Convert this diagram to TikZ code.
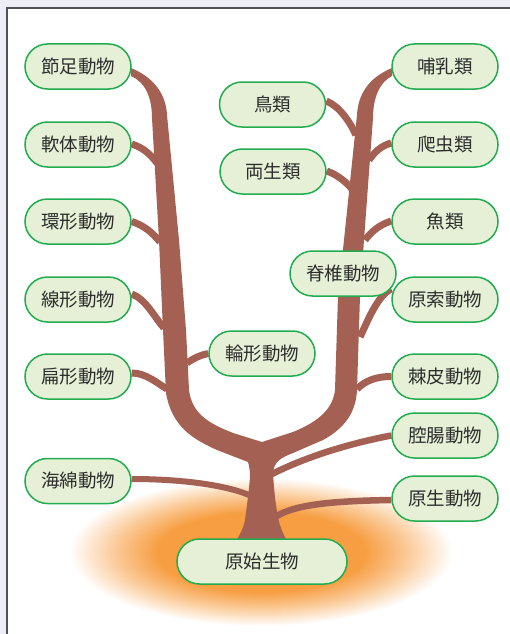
\documentclass[tikz,border=0pt]{standalone}
\usepackage{fontspec}
\newfontfamily\jpfont{Noto Sans CJK JP}
\definecolor{treec}{RGB}{164,96,82}
\definecolor{nodefill}{RGB}{230,240,214}
\definecolor{nodeborder}{RGB}{34,172,80}
\definecolor{textc}{RGB}{45,45,45}
\definecolor{glowc}{RGB}{247,158,66}
\definecolor{outerbg}{RGB}{238,239,246}
\definecolor{framec}{RGB}{80,80,88}
\pgfdeclareradialshading{glow}{\pgfpoint{0bp}{0bp}}{color(0bp)=(glowc); color(13.5bp)=(glowc); color(19bp)=(glowc!55!white); color(25bp)=(white); color(50bp)=(white)}
\pgfdeclarelayer{bg}
\pgfdeclarelayer{tree}
\pgfsetlayers{bg,tree,main}
\tikzset{
  taxon/.style={draw=nodeborder, line width=1.5pt, fill=nodefill, rounded corners=22.5pt,
    minimum width=106pt, minimum height=45pt, inner sep=0pt, text=textc,
    font=\jpfont\fontsize{18.5}{21}\selectfont},
  twig/.style={draw=treec, line width=7pt},
}
\begin{document}
\begin{tikzpicture}[x=1pt,y=-1pt]
\useasboundingbox (0,0) rectangle (510,634);
\begin{pgfonlayer}{bg}
\fill[outerbg] (0,0) rectangle (510,634);
\fill[white] (7,8) rectangle (510,634);
\draw[framec, line width=1.5pt] (7,634) -- (7,8) -- (510,8);
\shade[shading=glow] (261,552) ellipse [x radius=192, y radius=74];
\end{pgfonlayer}

% nodes
\node[taxon] (jiezu) at (78,66.5) {節足動物};
\node[taxon] (ruanti) at (78,144.5) {軟体動物};
\node[taxon] (huanxing) at (78,221.5) {環形動物};
\node[taxon] (xianxing) at (78,299.5) {線形動物};
\node[taxon] (bianxing) at (78,376.5) {扁形動物};
\node[taxon] (haimian) at (78,481) {海綿動物};
\node[taxon] (buru) at (445,66.5) {哺乳類};
\node[taxon] (pachong) at (445,144.5) {爬虫類};
\node[taxon] (yu) at (445,221.5) {魚類};
\node[taxon] (yuansuo) at (445,299.5) {原索動物};
\node[taxon] (jipi) at (445,376.5) {棘皮動物};
\node[taxon] (qiangchang) at (445,435.5) {腔腸動物};
\node[taxon] (yuansheng) at (445,498.5) {原生動物};
\node[taxon] (niao) at (272.5,104.5) {鳥類};
\node[taxon] (liangsheng) at (273,171.5) {両生類};
\node[taxon] (jizhui) at (343,273.5) {脊椎動物};
\node[taxon] (lunxing) at (262,353.5) {輪形動物};
\node[taxon, minimum width=170pt] (yuanshi) at (262,561.5) {原始生物};

% trunk attachment points
\coordinate (tRuanti) at (157,163);
\coordinate (tHuanxing) at (160,242);
\coordinate (tXianxing) at (164,328);
\coordinate (tBianxing) at (167,389);
\coordinate (tLunxing) at (187,363);
\coordinate (tHaimian) at (249,495);
\coordinate (tNiao) at (356,135);
\coordinate (tLiang) at (352,189);
\coordinate (tPachong) at (369,160);
\coordinate (tYu) at (365,240);
\coordinate (tYuansuo) at (360,337);
\coordinate (tJipi) at (357,389);
\coordinate (tQiang) at (272,474);
\coordinate (tYuansheng) at (277,516);

\begin{pgfonlayer}{tree}
% main tree
\fill[treec] (131,68) .. controls (155,78) and (166,95) .. (167,115)
  -- (179,240) -- (186,330) -- (189,390)
  .. controls (192,412) and (205,422) .. (233,433) -- (262,442)
  -- (293,432) .. controls (320,421) and (333,408) .. (335,390)
  -- (338,296) -- (344,240) -- (357,115)
  .. controls (358,95) and (368,78) .. (392,68) -- (392,76)
  .. controls (380,82) and (373,97) .. (373,118)
  -- (364,240) -- (360,296) -- (357,390)
  .. controls (356,412) and (345,428) .. (323,440) -- (293,453)
  .. controls (280,458) and (274,462) .. (273,473)
  .. controls (274,490) and (276,508) .. (278,517)
  .. controls (280,528) and (284,535) .. (287,541)
  -- (236,541)
  .. controls (241,533) and (244,526) .. (245,520)
  .. controls (247,505) and (249,490) .. (250,477)
  .. controls (250,470) and (249,465) .. (248,462)
  -- (217,450) .. controls (195,440) and (172,428) .. (166,393)
  -- (163,330) -- (159,240) -- (152,118)
  .. controls (152,97) and (145,82) .. (131,76) -- cycle;
% twigs
\draw[twig] ([yshift=0.5pt]ruanti.east) .. controls +(12,4) and (150,154) .. (tRuanti);
\draw[twig] (huanxing.east) .. controls +(12,4) and (152,232) .. (tHuanxing);
\draw[twig] ([yshift=5.5pt]xianxing.east) .. controls +(14,5) and (155,318) .. (tXianxing);
\draw[twig] ([yshift=3.5pt]bianxing.east) .. controls +(14,0) and (157,383) .. (tBianxing);
\draw[twig] (lunxing.west) .. controls +(-9,2) and (194,358) .. (tLunxing);
\draw[twig, line width=6pt] ([yshift=2pt]haimian.east) .. controls +(50,0) and (225,485) .. (tHaimian);
\draw[twig] ([yshift=3.5pt]niao.east) .. controls +(13,5) and (350,122) .. (tNiao);
\draw[twig] ([yshift=0.5pt]liangsheng.east) .. controls +(11,4) and (346,182) .. (tLiang);
\draw[twig] ([yshift=1.5pt]pachong.west) .. controls +(-11,3) and (374,153) .. (tPachong);
\draw[twig] ([yshift=0.5pt]yu.west) .. controls +(-12,4) and (372,231) .. (tYu);
\draw[twig] ([yshift=10.5pt]yuansuo.west) .. controls +(-14,6) and (366,325) .. (tYuansuo);
\draw[twig] (jipi.west) .. controls +(-14,0) and (366,380) .. (tJipi);
\draw[twig, line width=6.5pt] (qiangchang.west) .. controls +(-52,10) and (300,460) .. (tQiang);
\draw[twig, line width=6.5pt] ([yshift=-1.5pt]yuansheng.west) .. controls +(-62,1) and (295,505) .. (tYuansheng);
\end{pgfonlayer}
\end{tikzpicture}
\end{document}
